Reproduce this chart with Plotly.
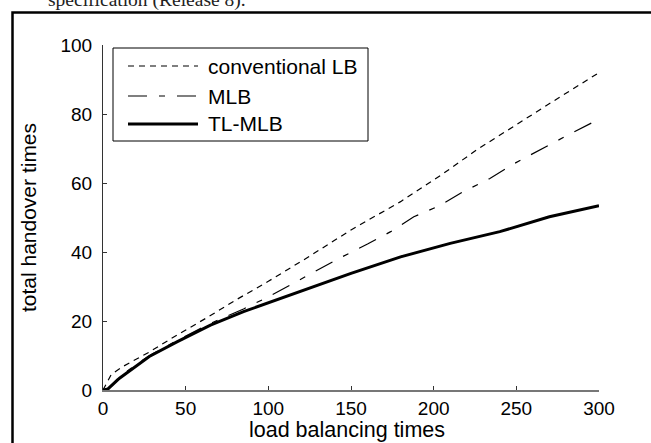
import plotly.graph_objects as go

# ---- data ----
conv_x = [0, 5, 12, 28, 45, 63, 80, 100, 123, 150, 180, 206, 226, 250, 275, 300]
conv_y = [0, 4.5, 6.8, 11, 16, 21, 26, 31.5, 38.2, 46.4, 54.6, 62.8, 69.6, 77, 84.5, 92]

mlb_x = [0, 3, 10, 20, 30, 45, 65, 85, 100, 127, 143, 160, 174, 188, 203, 218, 234, 249, 264, 280, 300]
mlb_y = [0, 0.4, 3.8, 7.4, 10.5, 14.4, 19.3, 23.5, 27, 34, 38.2, 42.3, 45.9, 50.2, 53.3, 57.5, 61.3, 65.7, 69.6, 73.6, 78.5]

tl_x = [0, 3, 10, 20, 28, 45, 65, 85, 100, 111, 120, 137, 150, 180, 210, 240, 270, 300]
tl_y = [0, 0.3, 3.4, 7, 9.7, 14, 18.8, 22.7, 25.3, 27, 28.6, 31.6, 33.8, 38.6, 42.5, 45.9, 50.2, 53.4]

x_ticks = [0, 50, 100, 150, 200, 250, 300]
y_ticks = [0, 20, 40, 60, 80, 100]

series_names = ["conventional LB", "MLB", "TL-MLB"]
x_title = "load balancing times"
y_title = "total handover times"
top_text = "specification (Release 8)."

# ---- layout geometry (pixels) ----
W, H = 651, 443
L, R, T, B = 103, 52, 45, 53
PW, PH = W - L - R, H - T - B

def px(X):
    return (X - L) / PW

def py(Y):
    return (H - B - Y) / PH

FONT = "Liberation Sans, Arial, Helvetica, sans-serif"
dash_conv = "6px,5px"
dash_mlb = "19px,12px,6px,12px"

fig = go.Figure()
fig.add_trace(go.Scatter(x=conv_x, y=conv_y, mode="lines", name=series_names[0],
                         line=dict(color="#000", width=1.2, dash=dash_conv)))
fig.add_trace(go.Scatter(x=mlb_x, y=mlb_y, mode="lines", name=series_names[1],
                         line=dict(color="#000", width=1.2, dash=dash_mlb)))
fig.add_trace(go.Scatter(x=tl_x, y=tl_y, mode="lines", name=series_names[2],
                         line=dict(color="#000", width=3)))

shapes = []
annotations = []

# outer frame
shapes.append(dict(type="rect", xref="paper", yref="paper",
                   x0=px(12.5), x1=px(665), y0=py(465), y1=py(12.5),
                   line=dict(color="black", width=2.5), fillcolor="rgba(0,0,0,0)", layer="above"))

# manual legend box
shapes.append(dict(type="rect", xref="paper", yref="paper",
                   x0=px(113), x1=px(368), y0=py(141), y1=py(48),
                   line=dict(color="black", width=1), fillcolor="white", layer="above"))
entry_y = [66, 96, 124]
entry_style = [dict(color="#000", width=1.2, dash=dash_conv),
               dict(color="#000", width=1.2, dash=dash_mlb),
               dict(color="#000", width=3)]
for name, ey, st in zip(series_names, entry_y, entry_style):
    shapes.append(dict(type="line", xref="paper", yref="paper",
                       x0=px(128), x1=px(198), y0=py(ey), y1=py(ey),
                       line=st, layer="above"))
    annotations.append(dict(text=name, xref="paper", yref="paper",
                            x=px(206), y=py(ey), xanchor="left", yanchor="middle",
                            showarrow=False, font=dict(family=FONT, size=21, color="black")))

# x-axis title
annotations.append(dict(text=x_title, xref="paper", yref="paper",
                        x=px(347), y=py(429.5), xanchor="center", yanchor="middle",
                        showarrow=False, font=dict(family=FONT, size=21.5, color="black")))

# clipped text at the very top (cut off by the page edge, as in the reference)
annotations.append(dict(text=top_text, xref="paper", yref="paper",
                        x=px(46), y=py(13), xanchor="left", yanchor="bottom",
                        showarrow=False,
                        font=dict(family="Liberation Serif, Times New Roman, serif", size=19.5, color="#222")))

fig.update_layout(
    width=W, height=H,
    margin=dict(l=L, r=R, t=T, b=B, autoexpand=False),
    paper_bgcolor="white", plot_bgcolor="white",
    showlegend=False,
    shapes=shapes, annotations=annotations,
    font=dict(family=FONT, size=20, color="black"),
)
fig.update_xaxes(range=[0, 300], tickvals=x_ticks, ticks="inside", ticklen=4, tickcolor="#333",
                 showline=True, linecolor="#777", linewidth=2, showgrid=False, zeroline=False,
                 ticklabelstandoff=0, automargin=False, tickfont=dict(size=19))
fig.update_yaxes(range=[0, 100], tickvals=y_ticks, ticks="inside", ticklen=4, tickcolor="#333",
                 showline=True, linecolor="#333", linewidth=1, showgrid=False, zeroline=False,
                 ticklabelstandoff=6, automargin=False, tickfont=dict(size=19),
                 title=dict(text=y_title, standoff=18, font=dict(size=21)))

fig.write_html("out.html")
